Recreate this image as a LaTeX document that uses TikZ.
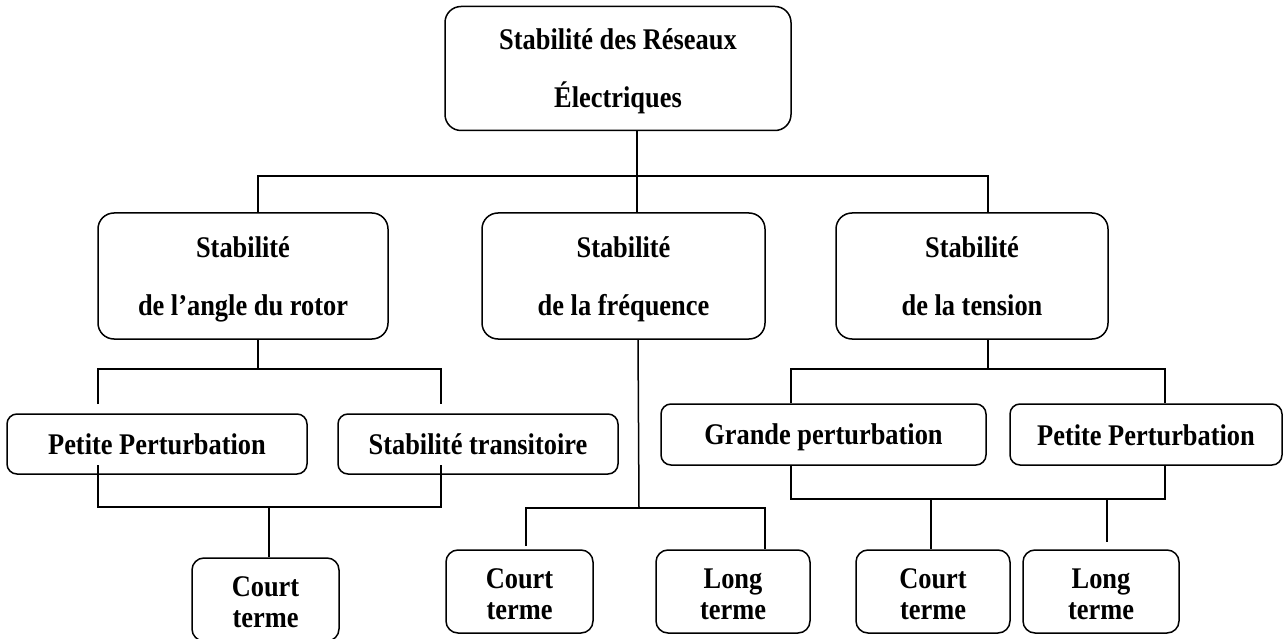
\documentclass[tikz,border=0pt]{standalone}
\usepackage{fontspec}
\newfontfamily\boxfont{Liberation Serif}[FakeStretch=0.88]
\newcommand\bigstrutx{\rule[-6pt]{0pt}{33pt}}
\newcommand\smallstrutx{\rule[-3pt]{0pt}{31pt}}
\begin{document}
\lineskiplimit=-100pt
\begin{tikzpicture}[x=1pt,y=-1pt,line width=1.5pt,
  bx/.style={draw, inner sep=0pt, align=center, font=\boxfont\bfseries\fontsize{30}{58}\selectfont},
  bigbox/.style={bx, rounded corners=16pt, minimum height=124pt},
  midbox/.style={bx, rounded corners=10pt, minimum height=60pt},
  smallbox/.style={bx, rounded corners=12pt, minimum height=83pt, font=\boxfont\bfseries\fontsize{30}{31}\selectfont},
  cn/.style={line width=1.5pt}]
\useasboundingbox (0,0) rectangle (1285,639);
\begin{scope}
\clip (0,0) rectangle (1285,639);
% nodes
\node[bigbox, minimum width=346pt] (top) at (618,68.5) {\bigstrutx Stabilité des Réseaux\\\bigstrutx Électriques};
\node[bigbox, minimum width=290pt, minimum height=126pt] (rotor) at (243,276) {\bigstrutx Stabilité\\\bigstrutx de l’angle du rotor};
\node[bigbox, minimum width=283pt, minimum height=126pt] (freq) at (623.5,276) {\bigstrutx Stabilité\\\bigstrutx de la fréquence};
\node[bigbox, minimum width=272pt, minimum height=126pt] (tens) at (972,276) {\bigstrutx Stabilité\\\bigstrutx de la tension};
\node[midbox, minimum width=300pt] (pp1) at (157,444) {\bigstrutx Petite Perturbation};
\node[midbox, minimum width=280pt] (st) at (478,444) {\bigstrutx Stabilité transitoire};
\node[midbox, minimum width=325pt, minimum height=61pt] (gp) at (823.5,434.5) {\bigstrutx Grande perturbation};
\node[midbox, minimum width=272pt, minimum height=61pt] (pp2) at (1146,434.5) {\bigstrutx Petite Perturbation};
\node[smallbox, minimum width=147pt] (ct1) at (265.5,599.5) {\smallstrutx Court\\\smallstrutx terme};
\node[smallbox, minimum width=147pt] (ct2) at (519.5,591.5) {\smallstrutx Court\\\smallstrutx terme};
\node[smallbox, minimum width=154pt] (lt1) at (733,591.5) {\smallstrutx Long\\\smallstrutx terme};
\node[smallbox, minimum width=154pt] (ct3) at (933,591.5) {\smallstrutx Court\\\smallstrutx terme};
\node[smallbox, minimum width=156pt] (lt2) at (1101,591.5) {\smallstrutx Long\\\smallstrutx terme};
% junction coordinates
\coordinate (a1) at (258,176);
\coordinate (a2) at (637,176);
\coordinate (a3) at (988,176);
\coordinate (b1) at (98,369);
\coordinate (b2) at (258,369);
\coordinate (b3) at (441,369);
\coordinate (b1e) at (98,404);
\coordinate (b3e) at (441,404);
\coordinate (c1s) at (98,465);
\coordinate (c3s) at (441,465);
\coordinate (c1) at (98,507);
\coordinate (c2) at (269,507);
\coordinate (c3) at (441,507);
\coordinate (f0) at (639,508);
\coordinate (f1) at (526,508);
\coordinate (f2) at (765,508);
\coordinate (f1e) at (526,546);
\coordinate (t1) at (791,369);
\coordinate (t2) at (988,369);
\coordinate (t3) at (1165,369);
\coordinate (g1) at (791,499);
\coordinate (g2) at (931,499);
\coordinate (g3) at (1107,499);
\coordinate (g4) at (1165,499);
\coordinate (g3e) at (1107,542);
% connectors
\draw[cn] (top.south -| a2) -- (freq.north -| a2);
\draw[cn] (rotor.north -| a1) -- (a1) -- (a3) -- (tens.north -| a3);
\draw[cn] (rotor.south -| b2) -- (b2);
\draw[cn] (b1e) -- (b1) -- (b3) -- (b3e);
\draw[cn] (c1s) -- (c1) -- (c3) -- (c3s);
\draw[cn] (c2) -- (ct1.north -| c2);
\draw[cn] (freq.south -| 638,0) -- (f0);
\draw[cn] (f1e) -- (f1) -- (f2) -- (lt1.north -| f2);
\draw[cn] (tens.south -| t2) -- (t2);
\draw[cn] (gp.north -| t1) -- (t1) -- (t3) -- (pp2.north -| t3);
\draw[cn] (gp.south -| g1) -- (g1) -- (g4) -- (pp2.south -| g4);
\draw[cn] (g2) -- (ct3.north -| g2);
\draw[cn] (g3) -- (g3e);
\end{scope}
\end{tikzpicture}
\end{document}
